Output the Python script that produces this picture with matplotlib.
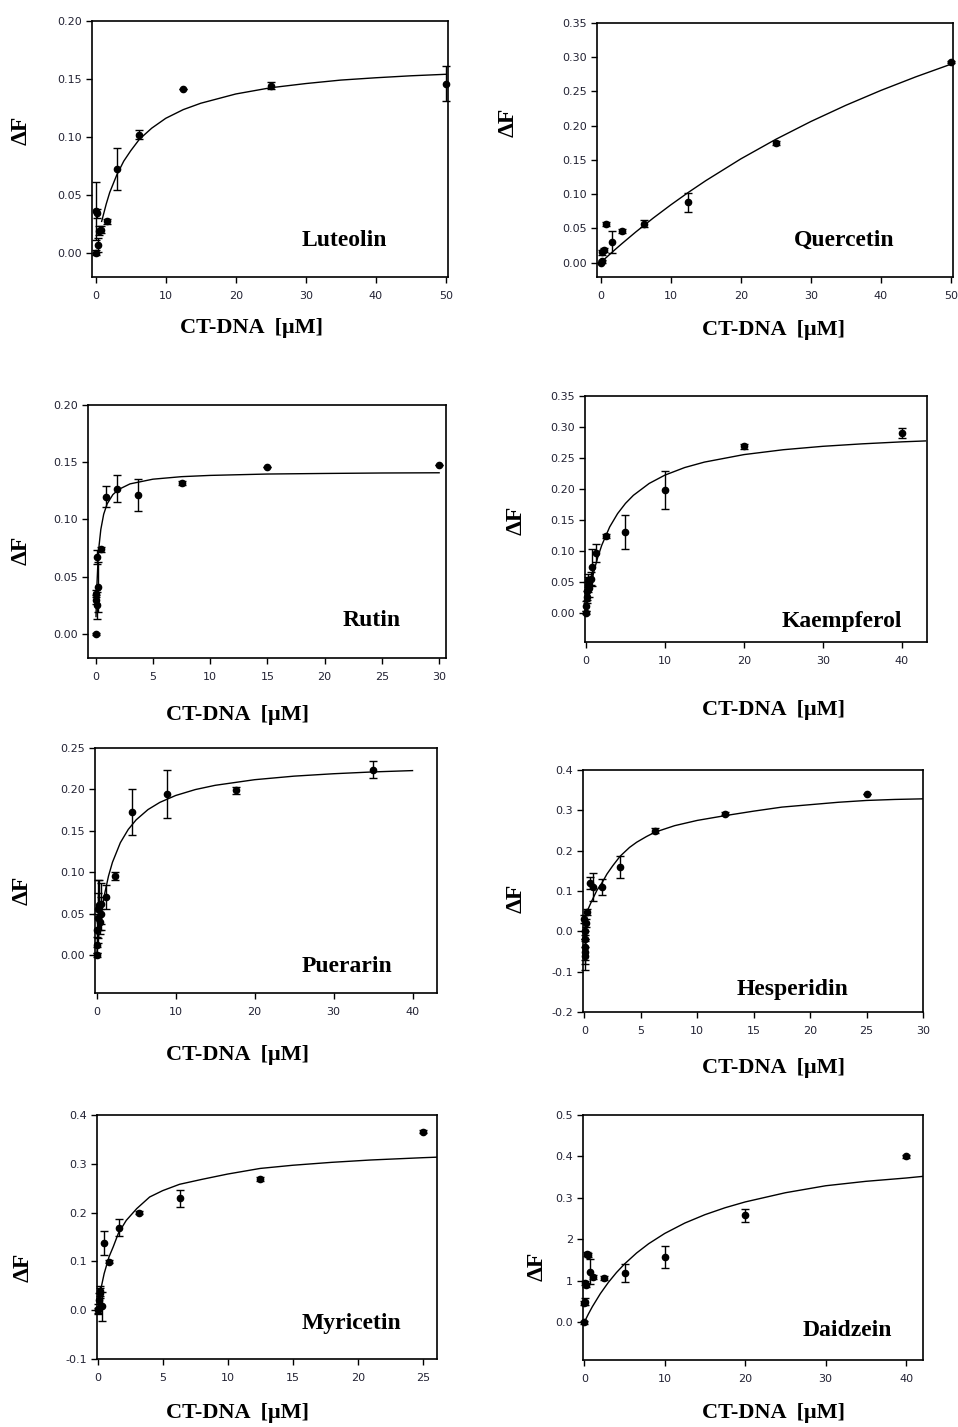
import matplotlib
matplotlib.use("Agg")
import matplotlib.pyplot as plt
from matplotlib.ticker import FormatStrFormatter

# Luteolin
lut_x = [0, 0.05, 0.15, 0.3, 0.4, 0.8, 1.6, 3.1, 6.25, 12.5, 25, 50]
lut_y = [0.0, 0.036, 0.034, 0.007, 0.019, 0.020, 0.027, 0.072, 0.102, 0.141, 0.144, 0.146]
lut_err = [0.002, 0.025, 0.004, 0.006, 0.004, 0.003, 0.002, 0.018, 0.004, 0.0, 0.003, 0.015]
lut_cx = [0.85, 1.5, 2, 3, 4, 5, 6.25, 8, 10, 12.5, 15, 20, 25, 30, 35, 40, 45, 50]
lut_cy = [0.027, 0.042, 0.052, 0.067, 0.079, 0.088, 0.098, 0.1075, 0.116, 0.1235, 0.129,
          0.137, 0.1424, 0.146, 0.149, 0.151, 0.1527, 0.154]

# Quercetin
que_x = [0, 0.15, 0.2, 0.4, 0.78, 1.6, 3.1, 6.25, 12.5, 25, 50]
que_y = [0.0, 0.015, 0.002, 0.019, 0.056, 0.030, 0.046, 0.057, 0.088, 0.175, 0.293]
que_err = [0.001, 0.004, 0.002, 0.003, 0.003, 0.016, 0.003, 0.005, 0.014, 0.003, 0.002]
que_cx = [0, 1, 2, 3, 5, 7.5, 10, 12.5, 15, 20, 25, 30, 35, 40, 45, 50]
que_cy = [0.0, 0.0094, 0.0186, 0.0275, 0.0447, 0.0651, 0.0843, 0.1025, 0.1197, 0.1515,
          0.1801, 0.2061, 0.2298, 0.2515, 0.2714, 0.2898]

# Rutin
rut_x = [0, 0.03, 0.06, 0.1, 0.12, 0.17, 0.47, 0.9, 1.85, 3.7, 7.5, 15, 30]
rut_y = [0.0, 0.035, 0.030, 0.025, 0.067, 0.041, 0.074, 0.120, 0.127, 0.121, 0.132, 0.146, 0.148]
rut_err = [0.001, 0.003, 0.004, 0.012, 0.006, 0.022, 0.002, 0.009, 0.012, 0.014, 0.002, 0.0, 0.0]
rut_cx = [0.03, 0.05, 0.1, 0.2, 0.3, 0.45, 0.7, 1.0, 1.5, 2, 3, 5, 7.5, 10, 15, 20, 25, 30]
rut_cy = [0.0152, 0.0237, 0.0406, 0.0631, 0.0775, 0.0913, 0.1046, 0.1136, 0.1217, 0.1262,
          0.1311, 0.1352, 0.1374, 0.1385, 0.1397, 0.1402, 0.1406, 0.1408]

# Kaempferol
kae_x = [0, 0.05, 0.1, 0.15, 0.2, 0.3, 0.4, 0.6, 0.8, 1.25, 2.5, 5, 10, 20, 40]
kae_y = [0.0, 0.010, 0.025, 0.035, 0.045, 0.052, 0.040, 0.055, 0.073, 0.096, 0.124, 0.130,
         0.198, 0.269, 0.290]
kae_err = [0.002, 0.008, 0.010, 0.015, 0.012, 0.010, 0.015, 0.010, 0.030, 0.015, 0.003, 0.028,
           0.031, 0.004, 0.008]
kae_cx = [0, 0.25, 0.5, 1, 1.5, 2, 3, 4, 5, 6, 8, 10, 12.5, 15, 20, 25, 30, 35, 40, 43]
kae_cy = [0.0, 0.02, 0.0375, 0.0667, 0.09, 0.1091, 0.1385, 0.16, 0.1765, 0.1895, 0.2087,
          0.2222, 0.2344, 0.2432, 0.2553, 0.2632, 0.2687, 0.2727, 0.2759, 0.2774]

# Puerarin
pue_x = [0, 0.05, 0.1, 0.15, 0.2, 0.3, 0.4, 0.5, 0.6, 1.14, 2.3, 4.5, 8.9, 17.6, 35]
pue_y = [0.0, 0.012, 0.030, 0.045, 0.055, 0.060, 0.040, 0.062, 0.050, 0.070, 0.095, 0.173,
         0.194, 0.199, 0.224]
pue_err = [0.002, 0.01, 0.02, 0.03, 0.035, 0.03, 0.015, 0.025, 0.02, 0.015, 0.005, 0.028,
           0.029, 0.004, 0.010]
pue_cx = [0, 0.25, 0.5, 1, 1.5, 2, 3, 4, 5, 6.5, 8, 10, 12.5, 15, 20, 25, 30, 35, 40]
pue_cy = [0.0, 0.024, 0.0435, 0.0734, 0.0953, 0.1119, 0.1356, 0.1516, 0.1632, 0.1756, 0.1843,
          0.1926, 0.1998, 0.2049, 0.2117, 0.216, 0.2189, 0.2211, 0.2227]

# Hesperidin
hes_x = [0, 0.02, 0.04, 0.06, 0.08, 0.1, 0.15, 0.2, 0.5, 0.8, 1.6, 3.16, 6.25, 12.5, 25]
hes_y = [0.03, 0.0, -0.02, -0.04, -0.05, -0.06, 0.02, 0.048, 0.120, 0.110, 0.110, 0.160,
         0.250, 0.292, 0.340]
hes_err = [0.01, 0.02, 0.02, 0.03, 0.03, 0.035, 0.01, 0.008, 0.015, 0.035, 0.02, 0.027,
           0.006, 0.004, 0.0]
hes_cx = [0.03, 0.15, 0.33, 0.6, 1.1, 1.6, 2.0, 2.5, 3.16, 4.0, 4.64, 5.5, 6.27, 8, 10, 12.5,
          15, 17.5, 20, 22.5, 25, 27.5, 30]
hes_cy = [0.02, 0.044, 0.055, 0.072, 0.101, 0.122, 0.142, 0.162, 0.186, 0.208, 0.221, 0.235,
          0.246, 0.262, 0.275, 0.287, 0.298, 0.308, 0.314, 0.320, 0.3245, 0.327, 0.3285]

# Myricetin
myr_x = [0, 0.05, 0.1, 0.15, 0.2, 0.3, 0.49, 0.87, 1.64, 3.2, 6.33, 12.5, 25]
myr_y = [0.0, 0.003, 0.02, 0.035, 0.04, 0.008, 0.138, 0.099, 0.169, 0.200, 0.229, 0.268, 0.366]
myr_err = [0.005, 0.01, 0.015, 0.01, 0.01, 0.03, 0.025, 0.003, 0.017, 0.003, 0.018, 0.004, 0.003]
myr_cx = [0.15, 0.3, 0.5, 0.87, 1.2, 1.6, 2.2, 3, 4, 5, 6.3, 8, 10, 12.5, 15, 18, 21, 25, 26.1]
myr_cy = [0.03, 0.05, 0.075, 0.109, 0.13, 0.158, 0.184, 0.208, 0.232, 0.245, 0.258, 0.268,
          0.279, 0.2905, 0.297, 0.303, 0.3078, 0.3125, 0.3136]

# Daidzein
dai_x = [0, 0.0, 0.05, 0.1, 0.2, 0.3, 0.4, 0.67, 1.1, 2.5, 5, 10, 20, 40]
dai_y = [0.0, 0.046, 0.05, 0.095, 0.09, 0.165, 0.162, 0.122, 0.110, 0.107, 0.119, 0.157,
         0.258, 0.400]
dai_err = [0.003, 0.005, 0.008, 0.004, 0.004, 0.004, 0.004, 0.03, 0.005, 0.004, 0.022, 0.027,
           0.015, 0.003]
dai_cx = [0, 0.5, 1, 2, 3, 4, 5, 6.5, 8, 10, 12.5, 15, 17.5, 20, 25, 30, 35, 40, 42.1]
dai_cy = [0.0, 0.0196, 0.0375, 0.0692, 0.0964, 0.12, 0.1406, 0.1671, 0.1895, 0.2143, 0.2394,
          0.2596, 0.2763, 0.2903, 0.3125, 0.3293, 0.340, 0.348, 0.352]
dai_ylabels = ["0.0", "1", "2", "0.3", "0.4", "0.5"]

names = ["Luteolin", "Quercetin", "Rutin", "Kaempferol",
         "Puerarin", "Hesperidin", "Myricetin", "Daidzein"]

W, H = 958, 1427
fig = plt.figure(figsize=(W / 100, H / 100), dpi=100)
fig.patch.set_facecolor("white")

serif = "Liberation Serif"
tickcol = "#222233"


def fx(px):
    return px / W


def fy(py):
    return 1 - py / H


def panel(box, x, y, err, cx, cy, xlim, ylim, xticks, yticks, fmt, name, xl_pos, df_pos, nm_pos,
          ylabels=None):
    l, t, r, b = box
    ax = fig.add_axes([fx(l), fy(b), (r - l) / W, (b - t) / H])
    ax.plot(cx, cy, color="black", lw=1.0)
    ax.errorbar(x, y, yerr=err, fmt="o", color="black", ms=4.5, capsize=3,
                elinewidth=1.0, capthick=1.0, clip_on=False)
    ax.set_xlim(*xlim)
    ax.set_ylim(*ylim)
    ax.set_xticks(xticks)
    ax.set_yticks(yticks)
    if ylabels is not None:
        ax.set_yticklabels(ylabels)
    else:
        ax.yaxis.set_major_formatter(FormatStrFormatter(fmt))
    ax.tick_params(direction="out", length=4, width=1, labelsize=8, colors="black",
                   labelcolor=tickcol)
    ax.tick_params(axis="x", pad=6)
    ax.tick_params(axis="y", pad=3)
    for s in ax.spines.values():
        s.set_linewidth(1.2)
        s.set_color("black")
    fig.text(fx(xl_pos[0]), fy(xl_pos[1]), "CT-DNA  [\u03bcM]", family=serif, weight="bold",
             fontsize=16, ha="center", va="center")
    fig.text(fx(df_pos[0]), fy(df_pos[1]), "\u0394F", family=serif, weight="bold",
             fontsize=17, ha="center", va="center", rotation=90)
    fig.text(fx(nm_pos[0]), fy(nm_pos[1]), name, family=serif, weight="bold",
             fontsize=17, ha="center", va="center")
    return ax


panel((92, 21, 448, 277), lut_x, lut_y, lut_err, lut_cx, lut_cy, (-0.53, 50.3), (-0.021, 0.20),
      [0, 10, 20, 30, 40, 50], [0, 0.05, 0.10, 0.15, 0.20], "%.2f", names[0],
      (252, 328), (21, 130), (344, 240))
panel((597, 23, 953, 277), que_x, que_y, que_err, que_cx, que_cy, (-0.53, 50.3), (-0.021, 0.35),
      [0, 10, 20, 30, 40, 50], [0, 0.05, 0.10, 0.15, 0.20, 0.25, 0.30, 0.35], "%.2f", names[1],
      (773, 330), (508, 122), (844, 240))
panel((88, 405, 446, 658), rut_x, rut_y, rut_err, rut_cx, rut_cy, (-0.67, 30.6), (-0.021, 0.20),
      [0, 5, 10, 15, 20, 25, 30], [0, 0.05, 0.10, 0.15, 0.20], "%.2f", names[2],
      (237, 715), (21, 550), (372, 621))
panel((585, 396, 927, 642), kae_x, kae_y, kae_err, kae_cx, kae_cy, (-0.13, 43.2), (-0.0475, 0.35),
      [0, 10, 20, 30, 40], [0, 0.05, 0.10, 0.15, 0.20, 0.25, 0.30, 0.35], "%.2f", names[3],
      (773, 710), (516, 520), (842, 622))
panel((95, 748, 437, 993), pue_x, pue_y, pue_err, pue_cx, pue_cy, (-0.21, 43.1), (-0.046, 0.25),
      [0, 10, 20, 30, 40], [0, 0.05, 0.10, 0.15, 0.20, 0.25], "%.2f", names[4],
      (237, 1055), (22, 890), (347, 967))
panel((583, 770, 923, 1012), hes_x, hes_y, hes_err, hes_cx, hes_cy, (-0.12, 30), (-0.2, 0.4),
      [0, 5, 10, 15, 20, 25, 30], [-0.2, -0.1, 0.0, 0.1, 0.2, 0.3, 0.4], "%.1f", names[5],
      (773, 1068), (516, 898), (793, 989))
panel((97, 1115, 437, 1359), myr_x, myr_y, myr_err, myr_cx, myr_cy, (-0.05, 26.1), (-0.1, 0.4),
      [0, 5, 10, 15, 20, 25], [-0.1, 0.0, 0.1, 0.2, 0.3, 0.4], "%.1f", names[6],
      (237, 1413), (23, 1267), (351, 1323))
panel((583, 1115, 923, 1360), dai_x, dai_y, dai_err, dai_cx, dai_cy, (-0.16, 42.1), (-0.091, 0.5),
      [0, 10, 20, 30, 40], [0.0, 0.1, 0.2, 0.3, 0.4, 0.5], "%.1f", names[7],
      (773, 1413), (537, 1266), (847, 1331), ylabels=dai_ylabels)

fig.savefig("out.png", dpi=100, facecolor="white")
